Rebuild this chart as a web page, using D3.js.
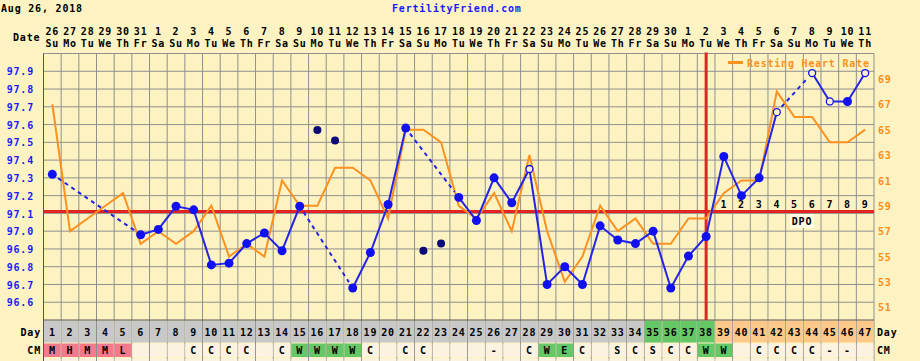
<!DOCTYPE html>
<html>
<head>
<meta charset="utf-8">
<script src="https://cdn.jsdelivr.net/npm/d3@7"></script>
<style>
  body { margin: 0; background: #fdf3c2; }
  svg text { font-family: "DejaVu Sans Mono", monospace; font-weight: bold; font-size: 10px; letter-spacing: 0.8px; }
</style>
</head>
<body>
<div class="chart"></div>
<script>
// chart data
var days = d3.range(1, 48);
var dayNums = ["26","27","28","29","30","31","1","2","3","4","5","6","7","8","9","10","11","12","13","14","15","16","17","18","19","20","21","22","23","24","25","26","27","28","29","30","1","2","3","4","5","6","7","8","9","10","11"];
var weekdays = ["Su","Mo","Tu","We","Th","Fr","Sa","Su","Mo","Tu","We","Th","Fr","Sa","Su","Mo","Tu","We","Th","Fr","Sa","Su","Mo","Tu","We","Th","Fr","Sa","Su","Mo","Tu","We","Th","Fr","Sa","Su","Mo","Tu","We","Th","Fr","Sa","Su","Mo","Tu","We","Th"];
var temps = [97.32,null,null,null,null,96.98,97.01,97.14,97.12,96.81,96.82,96.93,96.99,96.89,97.14,null,null,96.68,96.88,97.15,97.58,null,null,97.19,97.06,97.30,97.16,97.35,96.70,96.80,96.70,97.03,96.95,96.93,97.00,96.68,96.86,96.97,97.42,97.20,97.30,97.67,null,97.89,97.73,97.73,97.89];
var discarded = [[16,97.57],[17,97.51],[22,96.89],[23,96.93]];
var openDays = [28,42,44,45,47];
var heartRate = [67,57,58,59,60,56,57,56,57,59,55,56,55,61,59,59,62,62,61,58,65,65,64,59,58,60,57,63,57,53,55,59,57,58,56,56,58,58,60,61,61,68,66,66,64,64,65];
var tempTicks = [97.9,97.8,97.7,97.6,97.5,97.4,97.3,97.2,97.1,97.0,96.9,96.8,96.7,96.6];
var hrTicks = [51,53,55,57,59,61,63,65,67,69];
var cm = ["M","H","M","M","L","","","","C","C","C","C","","C","W","W","W","W","C","","C","C","","","","-","","C","W","E","C","","S","C","S","C","C","W","W","","C","C","C","C","-","-",""];
var dayColor = days.map(function(d) { return d <= 34 ? "#c8c8c8" : d <= 38 ? "#66c766" : "#fcc98a"; });
var cmColor = cm.map(function(c, i) { return i < 5 ? "#f37a8d" : (c == "W" || c == "E") ? "#66c766" : "#fbf3df"; });
var dpo = [1,2,3,4,5,6,7,8,9];
var coverLine = 97.11;
var ovulationDay = 38;

var width = 920, height = 361;
var pLeft = 43.5, pRight = 874, pTop = 53.5, pBottom = 320;

var svg = d3.select(".chart").append("svg")
  .attr("width", width).attr("height", height);

var x = d3.scaleBand().domain(days).range([pLeft, pRight]);
var yT = d3.scaleLinear().domain([96.5, 98.0]).range([pBottom, pTop]);
var yH = d3.scaleLinear().domain([50, 71]).range([pBottom, pTop]);
var cx = function(d) { return x(d) + x.bandwidth() / 2; };

// title
svg.append("text").attr("x", 1).attr("y", 12).text("Aug 26, 2018");
svg.append("text").attr("x", 392).attr("y", 12).attr("fill", "#1a1aff").text("FertilityFriend.com");

// date header
svg.append("text").attr("x", 13).attr("y", 41).text("Date");
svg.selectAll(".dn").data(days).enter().append("text")
  .attr("x", cx).attr("y", 35).attr("text-anchor", "middle")
  .text(function(d, i) { return dayNums[i]; });
svg.selectAll(".wd").data(days).enter().append("text")
  .attr("x", cx).attr("y", 47).attr("text-anchor", "middle")
  .text(function(d, i) { return weekdays[i]; });

// plot area + grid
svg.append("rect").attr("x", pLeft).attr("y", pTop).attr("width", pRight - pLeft).attr("height", pBottom - pTop).attr("fill", "#fdf3c2");
svg.selectAll(".hg").data(tempTicks).enter().append("line")
  .attr("x1", pLeft).attr("x2", pRight).attr("y1", yT).attr("y2", yT)
  .attr("stroke", "#8f8f8f");
svg.selectAll(".vg").data(days.concat([48])).enter().append("line")
  .attr("x1", function(d) { return d == 48 ? pRight : x(d); })
  .attr("x2", function(d) { return d == 48 ? pRight : x(d); })
  .attr("y1", pTop).attr("y2", 375)
  .attr("stroke", "#8f8f8f");
svg.append("line").attr("x1", pLeft).attr("x2", pRight).attr("y1", pTop).attr("y2", pTop).attr("stroke", "#8f8f8f");
svg.append("line").attr("x1", pLeft).attr("x2", pLeft).attr("y1", pTop).attr("y2", 375).attr("stroke", "#555");

// axes labels
svg.append("g").attr("transform", "translate(34,0)")
  .call(d3.axisLeft(yT).tickValues(tempTicks).tickSize(0).tickPadding(0).tickFormat(d3.format(".1f")))
  .call(function(g) {
    g.select(".domain").remove();
    g.selectAll("text").attr("fill", "#1a1aff").attr("font-family", null).attr("font-size", null).attr("dy", "0.36em");
  });
svg.append("g").attr("transform", "translate(878,0)")
  .call(d3.axisRight(yH).tickValues(hrTicks).tickSize(0).tickPadding(0))
  .call(function(g) {
    g.select(".domain").remove();
    g.selectAll("text").attr("fill", "#fb8c14").attr("font-family", null).attr("font-size", null).attr("dy", "0.36em");
  });

// day and cm rows
svg.selectAll(".dr").data(days).enter().append("rect")
  .attr("x", function(d) { return x(d) + 0.5; }).attr("y", pBottom + 0.5)
  .attr("width", x.bandwidth() - 1).attr("height", 22)
  .attr("fill", function(d, i) { return dayColor[i]; });
svg.selectAll(".cr").data(days).enter().append("rect")
  .attr("x", function(d) { return x(d) + 0.5; }).attr("y", 343.5)
  .attr("width", x.bandwidth() - 1).attr("height", 13.5)
  .attr("fill", function(d, i) { return cmColor[i]; });
svg.selectAll(".er").data(days).enter().append("rect")
  .attr("x", function(d) { return x(d) + 0.5; }).attr("y", 358.5)
  .attr("width", x.bandwidth() - 1).attr("height", 10)
  .attr("fill", "#fbf3df");
svg.append("line").attr("x1", pLeft).attr("x2", pRight).attr("y1", pBottom).attr("y2", pBottom).attr("stroke", "#555");
svg.selectAll(".dt").data(days).enter().append("text")
  .attr("x", cx).attr("y", 336).attr("text-anchor", "middle").text(function(d) { return d; });
svg.selectAll(".ct").data(days).enter().append("text")
  .attr("x", cx).attr("y", 354).attr("text-anchor", "middle").text(function(d, i) { return cm[i]; });
svg.append("text").attr("x", 41).attr("y", 336).attr("text-anchor", "end").text("Day");
svg.append("text").attr("x", 41).attr("y", 354).attr("text-anchor", "end").text("CM");
svg.append("text").attr("x", 877).attr("y", 336).text("Day");
svg.append("text").attr("x", 877).attr("y", 354).text("CM");

// cover line and ovulation line
svg.append("line").attr("x1", pLeft).attr("x2", pRight).attr("y1", yT(coverLine)).attr("y2", yT(coverLine))
  .attr("stroke", "#e32222").attr("stroke-width", 3);
svg.append("line").attr("x1", cx(ovulationDay)).attr("x2", cx(ovulationDay)).attr("y1", pTop - 1).attr("y2", pBottom)
  .attr("stroke", "#e32222").attr("stroke-width", 3);

// dpo
svg.selectAll(".dpo").data(dpo).enter().append("text")
  .attr("x", function(d) { return cx(ovulationDay + d); }).attr("y", 208).attr("text-anchor", "middle")
  .text(function(d) { return d; });
svg.append("rect").attr("x", 790).attr("y", 214).attr("width", 24).attr("height", 14).attr("fill", "#fffae0");
svg.append("text").attr("x", 802).attr("y", 225).attr("text-anchor", "middle").text("DPO");

// resting heart rate
svg.append("path").datum(days)
  .attr("fill", "none").attr("stroke", "#fb9120").attr("stroke-width", 2)
  .attr("d", d3.line().x(cx).y(function(d, i) { return yH(heartRate[i]); }));
svg.append("line").attr("x1", 728).attr("x2", 743).attr("y1", 62.5).attr("y2", 62.5).attr("stroke", "#fb9120").attr("stroke-width", 3);
svg.append("text").attr("x", 747).attr("y", 67).attr("fill", "#fb9120").text("Resting Heart Rate");

// temperatures
var pts = days.map(function(d, i) { return { day: d, t: temps[i] }; });
var line = d3.line().defined(function(p) { return p.t != null; }).x(function(p) { return cx(p.day); }).y(function(p) { return yT(p.t); });
svg.append("path").datum(pts)
  .attr("fill", "none").attr("stroke", "#2424e6").attr("stroke-width", 2).attr("d", line);
var known = pts.filter(function(p) { return p.t != null; });
var gaps = [];
for (var i = 1; i < known.length; i++) {
  if (known[i].day - known[i - 1].day > 1) gaps.push([known[i - 1], known[i]]);
}
svg.selectAll(".gap").data(gaps).enter().append("path")
  .attr("fill", "none").attr("stroke", "#2424e6").attr("stroke-width", 2).attr("stroke-dasharray", "4,4")
  .attr("d", function(g) {
    var x0 = cx(g[0].day), y0 = yT(g[0].t), x1 = cx(g[1].day), y1 = yT(g[1].t);
    var len = Math.hypot(x1 - x0, y1 - y0), k = 7 / len;
    return d3.line()([[x0 + (x1 - x0) * k, y0 + (y1 - y0) * k], [x1 - (x1 - x0) * k, y1 - (y1 - y0) * k]]);
  });
svg.selectAll(".dot").data(known).enter().append("circle")
  .attr("cx", function(p) { return cx(p.day); }).attr("cy", function(p) { return yT(p.t); })
  .attr("r", function(p) { return openDays.indexOf(p.day) >= 0 ? 3.5 : 4.5; })
  .attr("fill", function(p) { return openDays.indexOf(p.day) >= 0 ? "#fdf3c2" : "#1010f0"; })
  .attr("stroke", "#1010f0").attr("stroke-width", function(p) { return openDays.indexOf(p.day) >= 0 ? 1.3 : 0; });
svg.selectAll(".disc").data(discarded).enter().append("circle")
  .attr("cx", function(d) { return cx(d[0]); }).attr("cy", function(d) { return yT(d[1]); })
  .attr("r", 4).attr("fill", "#0a0a78");
</script>
</body>
</html>
